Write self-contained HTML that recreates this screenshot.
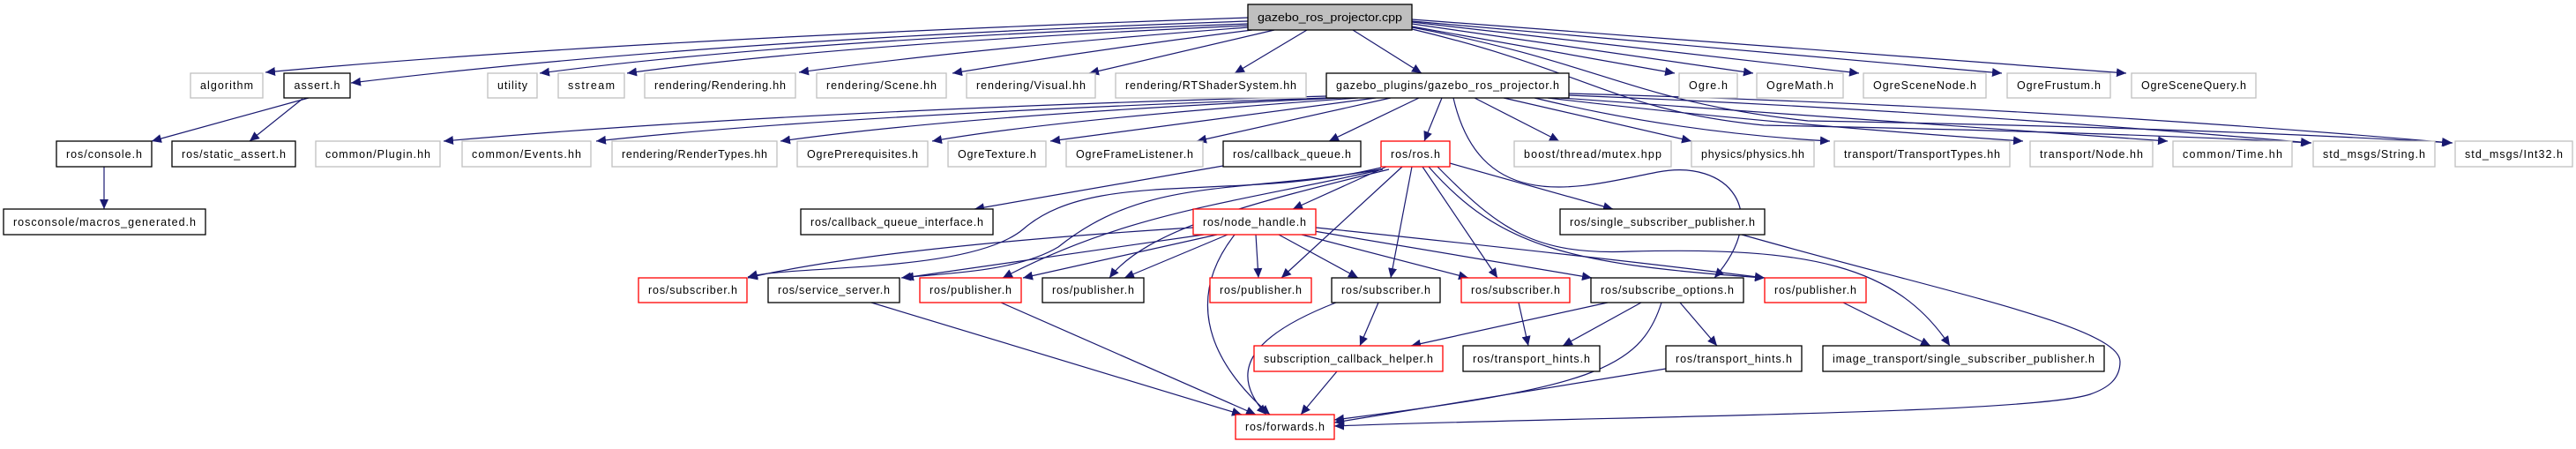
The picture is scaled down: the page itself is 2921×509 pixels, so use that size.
<!DOCTYPE html>
<html><head><meta charset="utf-8"><style>
html,body{margin:0;padding:0;background:#fff;}
svg text{font-family:"Liberation Sans",sans-serif;font-size:12.5px;fill:#000;}
</style></head><body>
<svg width="2921" height="504" viewBox="0 0 2921 504" xmlns="http://www.w3.org/2000/svg">
<defs><marker id="a" markerUnits="userSpaceOnUse" markerWidth="12" markerHeight="10" refX="11" refY="5" orient="auto"><path d="M0,0 L11,5 L0,10 z" fill="#191970"/></marker></defs>
<g fill="none" stroke="#191970" stroke-width="1.2" marker-end="url(#a)">
<path d="M1415,20 Q700,45 301,82"/>
<path d="M1415,24 Q800,45 398,94"/>
<path d="M1415,27 Q900,45 612,83"/>
<path d="M1415,29 Q950,50 711,83"/>
<path d="M1415,31 Q1100,55 906,82"/>
<path d="M1420,34 Q1250,55 1080,83"/>
<path d="M1445,34 L1235,83"/>
<path d="M1482,34 L1400,83"/>
<path d="M1534,34 L1612,83"/>
<path d="M1601,30 L1899,83"/>
<path d="M1601,27 L1988,83"/>
<path d="M1601,25 L2108,83"/>
<path d="M1601,24 L2270,83"/>
<path d="M1601,22 L2411,83"/>
<path d="M1601,33 C1800,80 1830,125 2000,142 Q2400,150 2621,162"/>
<path d="M1601,31 C1820,72 1850,115 2050,137 Q2500,145 2781,162"/>
<path d="M350,111 L172,160"/>
<path d="M343,112 L283,160"/>
<path d="M118,189 L118,237"/>
<path d="M1504,109 Q900,125 503,160"/>
<path d="M1504,111 Q950,130 676,160"/>
<path d="M1520,111 Q1100,130 885,160"/>
<path d="M1540,111 Q1200,135 1057,160"/>
<path d="M1560,111 L1191,160"/>
<path d="M1577,111 L1357,160"/>
<path d="M1609,111 L1507,160"/>
<path d="M1635,111 L1615,160"/>
<path d="M1672,111 L1768,160"/>
<path d="M1705,111 L1918,160"/>
<path d="M1740,111 Q1900,150 2075,160"/>
<path d="M1755,111 Q2000,140 2294,160"/>
<path d="M1770,111 Q2100,135 2458,160"/>
<path d="M1779,108 Q2200,125 2620,162"/>
<path d="M1779,106 Q2300,120 2780,162"/>
<path d="M1648,111 C1680,250 1800,210 1880,195 C1960,180 2010,240 1944,315"/>
<path d="M1387,188 L1105,237"/>
<path d="M1572,189 L1466,237"/>
<path d="M1644,185 L1829,237"/>
<path d="M1566,190 C1400,230 1240,190 1160,260 C1100,310 900,300 848,314"/>
<path d="M1566,192 C1400,220 1300,200 1200,280 C1150,310 1060,310 1022,315"/>
<path d="M1568,192 C1400,230 1280,240 1137,315"/>
<path d="M1575,192 C1420,230 1300,260 1258,315"/>
<path d="M1590,189 L1453,315"/>
<path d="M1601,189 L1577,315"/>
<path d="M1613,189 L1698,315"/>
<path d="M1620,189 C1700,280 1780,300 2001,315"/>
<path d="M1630,189 C1700,260 1740,290 1850,285 C2050,280 2150,300 2211,392"/>
<path d="M1353,258 Q1000,280 848,315"/>
<path d="M1365,266 L1025,315"/>
<path d="M1380,266 L1160,315"/>
<path d="M1392,266 L1275,315"/>
<path d="M1424,266 L1427,315"/>
<path d="M1450,266 L1540,315"/>
<path d="M1476,266 L1665,315"/>
<path d="M1490,262 L1805,315"/>
<path d="M1492,258 Q1800,290 2001,315"/>
<path d="M1400,266 C1350,330 1360,400 1440,470"/>
<path d="M988,343 L1408,470"/>
<path d="M1135,343 L1424,470"/>
<path d="M1563,343 L1542,392"/>
<path d="M1515,343 C1420,380 1390,420 1436,470"/>
<path d="M1722,343 L1733,392"/>
<path d="M1823,343 L1600,392"/>
<path d="M1861,343 L1772,392"/>
<path d="M1905,343 L1947,392"/>
<path d="M1884,343 C1860,420 1800,440 1513,476"/>
<path d="M1889,418 L1513,479"/>
<path d="M1516,421 L1475,470"/>
<path d="M2090,343 L2189,392"/>
<path d="M1975,266 C2200,330 2404,370 2404,410 C2404,430 2390,440 2370,447 C2300,470 1800,472 1513,483"/>
</g>
<g stroke-width="1.3">
<rect x="1415" y="5" width="186" height="29" fill="#bfbfbf" stroke="#000"/>
<text x="1508" y="24" text-anchor="middle" textLength="164" lengthAdjust="spacingAndGlyphs">gazebo_ros_projector.cpp</text>
</g>
<g fill="#fff" stroke="#bfbfbf" stroke-width="1.3">
<rect x="216" y="83" width="82" height="28"/><rect x="553" y="83" width="56" height="28"/><rect x="633" y="83" width="75" height="28"/><rect x="731" y="83" width="171" height="28"/><rect x="926" y="83" width="147" height="28"/><rect x="1096" y="83" width="146" height="28"/><rect x="1265" y="83" width="216" height="28"/><rect x="1904" y="83" width="66" height="28"/><rect x="1992" y="83" width="98" height="28"/><rect x="2113" y="83" width="139" height="28"/><rect x="2276" y="83" width="117" height="28"/><rect x="2417" y="83" width="141" height="28"/>
<rect x="358" y="160" width="141" height="29"/><rect x="524" y="160" width="146" height="29"/><rect x="694" y="160" width="187" height="29"/><rect x="904" y="160" width="148" height="29"/><rect x="1075" y="160" width="111" height="29"/><rect x="1209" y="160" width="155" height="29"/><rect x="1717" y="160" width="178" height="29"/><rect x="1918" y="160" width="139" height="29"/><rect x="2080" y="160" width="199" height="29"/><rect x="2302" y="160" width="139" height="29"/><rect x="2464" y="160" width="135" height="29"/><rect x="2623" y="160" width="138" height="29"/><rect x="2784" y="160" width="133" height="29"/>
</g>
<g fill="#fff" stroke="#000" stroke-width="1.3">
<rect x="322" y="83" width="75" height="28"/><rect x="1504" y="83" width="275" height="28"/>
<rect x="64" y="160" width="108" height="29"/><rect x="195" y="160" width="140" height="29"/><rect x="1387" y="160" width="156" height="29"/>
<rect x="4" y="237" width="229" height="29"/><rect x="908" y="237" width="218" height="29"/><rect x="1769" y="237" width="232" height="29"/>
<rect x="871" y="315" width="149" height="28"/><rect x="1182" y="315" width="115" height="28"/><rect x="1510" y="315" width="123" height="28"/><rect x="1804" y="315" width="173" height="28"/>
<rect x="1659" y="392" width="155" height="29"/><rect x="1889" y="392" width="154" height="29"/><rect x="2067" y="392" width="319" height="29"/>
</g>
<g fill="#fff" stroke="#ff0000" stroke-width="1.3">
<rect x="1566" y="160" width="78" height="29"/><rect x="1353" y="237" width="139" height="29"/>
<rect x="724" y="315" width="123" height="28"/><rect x="1043" y="315" width="115" height="28"/><rect x="1372" y="315" width="115" height="28"/><rect x="1657" y="315" width="123" height="28"/><rect x="2001" y="315" width="115" height="28"/>
<rect x="1422" y="392" width="214" height="29"/><rect x="1401" y="470" width="112" height="28"/>
</g>
<g text-anchor="middle" lengthAdjust="spacingAndGlyphs">
<text x="257" y="101" textLength="60">algorithm</text>
<text x="359.5" y="101" textLength="52">assert.h</text>
<text x="581" y="101" textLength="34">utility</text>
<text x="670.5" y="101" textLength="53">sstream</text>
<text x="816.5" y="101" textLength="149">rendering/Rendering.hh</text>
<text x="999.5" y="101" textLength="125">rendering/Scene.hh</text>
<text x="1169" y="101" textLength="124">rendering/Visual.hh</text>
<text x="1373" y="101" textLength="194">rendering/RTShaderSystem.hh</text>
<text x="1641.5" y="101" textLength="253">gazebo_plugins/gazebo_ros_projector.h</text>
<text x="1937" y="101" textLength="44">Ogre.h</text>
<text x="2041" y="101" textLength="76">OgreMath.h</text>
<text x="2182.5" y="101" textLength="117">OgreSceneNode.h</text>
<text x="2334.5" y="101" textLength="95">OgreFrustum.h</text>
<text x="2487.5" y="101" textLength="119">OgreSceneQuery.h</text>
<text x="118" y="179" textLength="86">ros/console.h</text>
<text x="265" y="179" textLength="118">ros/static_assert.h</text>
<text x="428.5" y="179" textLength="119">common/Plugin.hh</text>
<text x="597" y="179" textLength="124">common/Events.hh</text>
<text x="787.5" y="179" textLength="165">rendering/RenderTypes.hh</text>
<text x="978" y="179" textLength="126">OgrePrerequisites.h</text>
<text x="1130.5" y="179" textLength="89">OgreTexture.h</text>
<text x="1286.5" y="179" textLength="133">OgreFrameListener.h</text>
<text x="1465" y="179" textLength="134">ros/callback_queue.h</text>
<text x="1605" y="179" textLength="56">ros/ros.h</text>
<text x="1806" y="179" textLength="156">boost/thread/mutex.hpp</text>
<text x="1987.5" y="179" textLength="117">physics/physics.hh</text>
<text x="2179.5" y="179" textLength="177">transport/TransportTypes.hh</text>
<text x="2371.5" y="179" textLength="117">transport/Node.hh</text>
<text x="2531.5" y="179" textLength="113">common/Time.hh</text>
<text x="2692" y="179" textLength="116">std_msgs/String.h</text>
<text x="2850.5" y="179" textLength="111">std_msgs/Int32.h</text>
<text x="118.5" y="256" textLength="207">rosconsole/macros_generated.h</text>
<text x="1017" y="256" textLength="196">ros/callback_queue_interface.h</text>
<text x="1422.5" y="256" textLength="117">ros/node_handle.h</text>
<text x="1885" y="256" textLength="210">ros/single_subscriber_publisher.h</text>
<text x="785.5" y="333" textLength="101">ros/subscriber.h</text>
<text x="945.5" y="333" textLength="127">ros/service_server.h</text>
<text x="1100.5" y="333" textLength="93">ros/publisher.h</text>
<text x="1239.5" y="333" textLength="93">ros/publisher.h</text>
<text x="1429.5" y="333" textLength="93">ros/publisher.h</text>
<text x="1571.5" y="333" textLength="101">ros/subscriber.h</text>
<text x="1718.5" y="333" textLength="101">ros/subscriber.h</text>
<text x="1890.5" y="333" textLength="151">ros/subscribe_options.h</text>
<text x="2058.5" y="333" textLength="93">ros/publisher.h</text>
<text x="1529" y="411" textLength="192">subscription_callback_helper.h</text>
<text x="1736.5" y="411" textLength="133">ros/transport_hints.h</text>
<text x="1966" y="411" textLength="132">ros/transport_hints.h</text>
<text x="2226.5" y="411" textLength="297">image_transport/single_subscriber_publisher.h</text>
<text x="1457" y="488" textLength="90">ros/forwards.h</text>
</g>
</svg>
</body></html>
